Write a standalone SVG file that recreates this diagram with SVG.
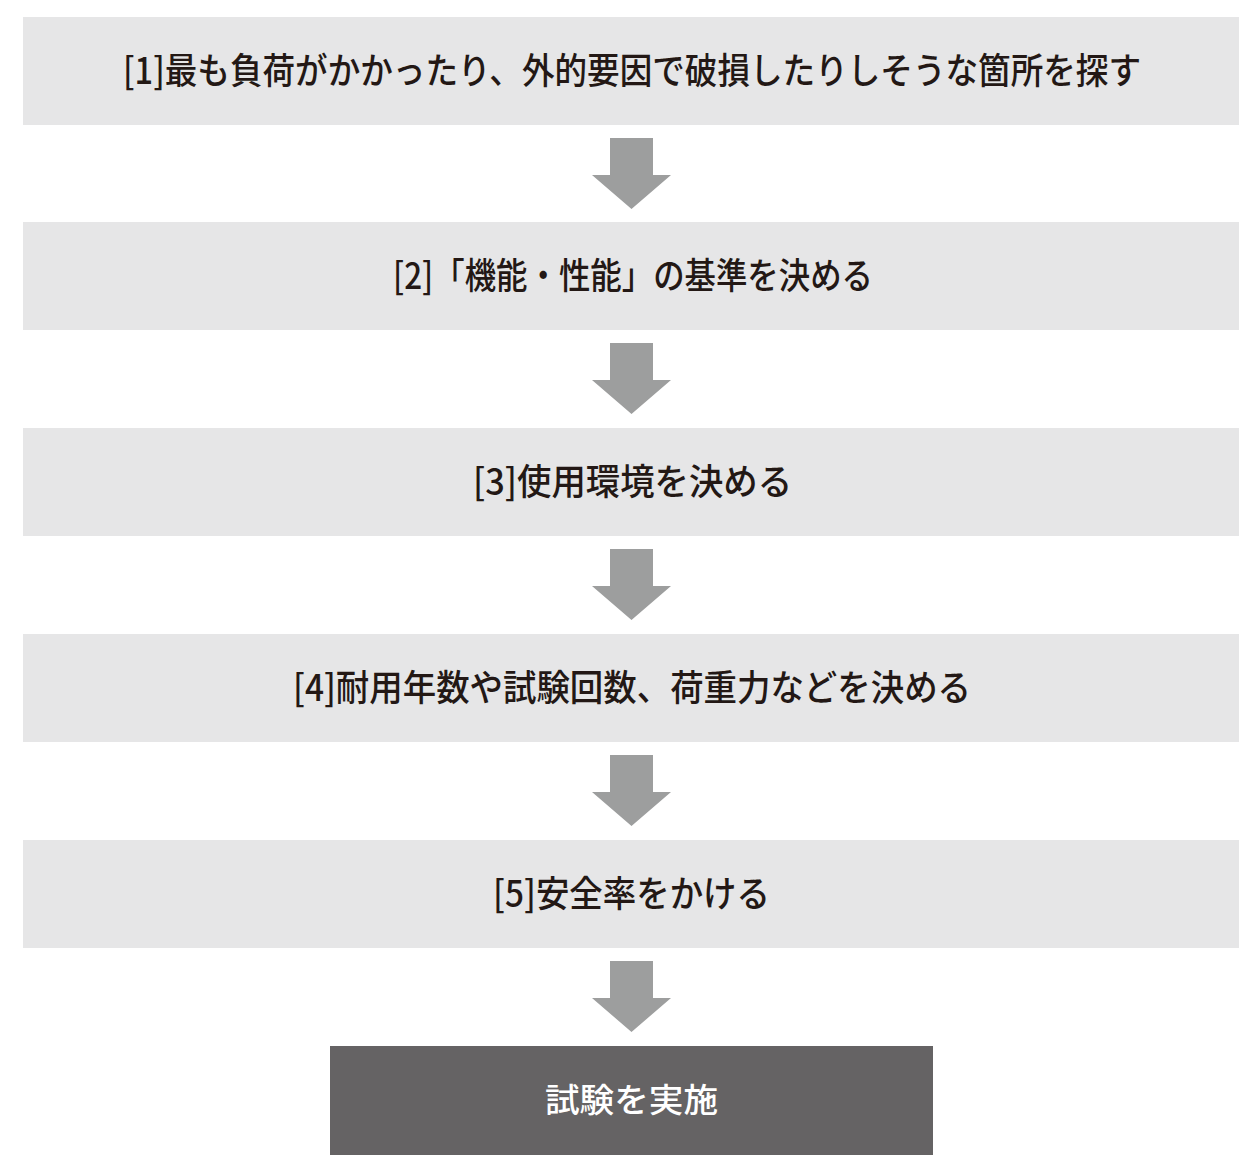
<svg xmlns="http://www.w3.org/2000/svg" xmlns:xlink="http://www.w3.org/1999/xlink" width="1259" height="1173" viewBox="0 0 1259 1173">
  <style>
    .step { fill: #e6e6e7; }
    .final { fill: #656364; }
    .arrow { fill: #9d9e9e; }
    .label { font-family: "Noto Sans CJK JP", "Noto Sans CJK SC", sans-serif; font-size: 36px; font-weight: 500; fill: #231815; text-anchor: middle; }
    .flabel { font-family: "Noto Sans CJK JP", "Noto Sans CJK SC", sans-serif; font-size: 33px; font-weight: 500; fill: #ffffff; text-anchor: middle; }
  </style>
  <defs>
    <path id="downArrow" d="M610,0 H653 V37 H671 L631.5,71 L592,37 H610 Z"/>
  </defs>
  <rect x="0" y="0" width="1259" height="1173" fill="#ffffff"/>
  <g id="connectors" class="arrow">
    <use xlink:href="#downArrow" href="#downArrow" transform="translate(0,138)"/>
    <use xlink:href="#downArrow" href="#downArrow" transform="translate(0,343)"/>
    <use xlink:href="#downArrow" href="#downArrow" transform="translate(0,549)"/>
    <use xlink:href="#downArrow" href="#downArrow" transform="translate(0,755)"/>
    <use xlink:href="#downArrow" href="#downArrow" transform="translate(0,961)"/>
  </g>
  <g id="step1">
    <rect class="step" x="23" y="17" width="1216" height="108"/>
    <text class="label" x="632" y="84" textLength="1018" lengthAdjust="spacingAndGlyphs">[1]最も負荷がかかったり、外的要因で破損したりしそうな箇所を探す</text>
  </g>
  <g id="step2">
    <rect class="step" x="23" y="222" width="1216" height="108"/>
    <text class="label" x="633" y="289" textLength="480" lengthAdjust="spacingAndGlyphs">[2]「機能・性能」の基準を決める</text>
  </g>
  <g id="step3">
    <rect class="step" x="23" y="428" width="1216" height="108"/>
    <text class="label" x="632.5" y="495" textLength="319" lengthAdjust="spacingAndGlyphs">[3]使用環境を決める</text>
  </g>
  <g id="step4">
    <rect class="step" x="23" y="634" width="1216" height="108"/>
    <text class="label" x="632" y="701" textLength="678" lengthAdjust="spacingAndGlyphs">[4]耐用年数や試験回数、荷重力などを決める</text>
  </g>
  <g id="step5">
    <rect class="step" x="23" y="840" width="1216" height="108"/>
    <text class="label" x="631.5" y="907" textLength="277" lengthAdjust="spacingAndGlyphs">[5]安全率をかける</text>
  </g>
  <g id="final">
    <rect class="final" x="330" y="1046" width="603" height="109"/>
    <text class="flabel" x="631.5" y="1112" textLength="173" lengthAdjust="spacingAndGlyphs">試験を実施</text>
  </g>
</svg>
